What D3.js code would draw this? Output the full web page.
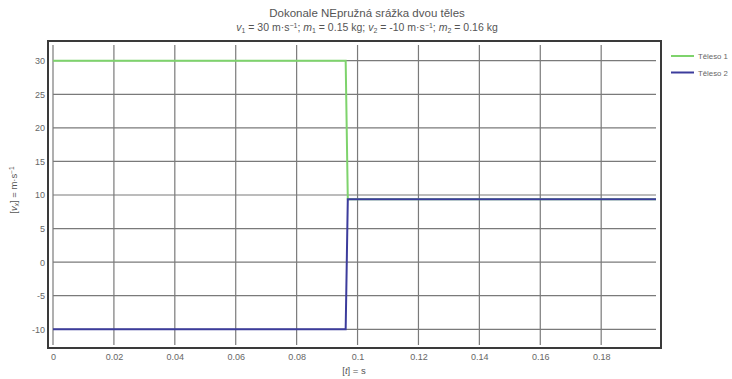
<!DOCTYPE html>
<html>
<head>
<meta charset="utf-8">
<script src="https://cdn.jsdelivr.net/npm/d3@7"></script>
<style>
  body { margin: 0; background: #fff; }
  svg { font-family: "Liberation Sans", Arial, sans-serif; }
  .tick text { fill: #666; font-size: 9px; }
</style>
</head>
<body>
<svg id="chart" width="732" height="379"></svg>
<script>
// time samples [s]
var times = [0, 0.0961, 0.0968, 0.198];
// velocities [m/s]
var body1 = [30, 30, 9.35, 9.35];
var body2 = [-10, -10, 9.35, 9.35];
var seriesNames = ['Těleso 1', 'Těleso 2'];
var xTicks = [0, 0.02, 0.04, 0.06, 0.08, 0.1, 0.12, 0.14, 0.16, 0.18];
var yTicks = [-10, -5, 0, 5, 10, 15, 20, 25, 30];

var svg = d3.select('#chart');
var colors = ['#7ed36c', '#3c3c9c'];

var x = d3.scaleLinear().domain([0, 0.198]).range([53, 656]);
var y = d3.scaleLinear().domain([-12.34, 32.34]).range([345, 45]);

// grid
svg.append('g').selectAll('line').data(xTicks).join('line')
  .attr('x1', d => x(d)).attr('x2', d => x(d))
  .attr('y1', y(32.34)).attr('y2', y(-12.34))
  .attr('stroke', '#7a7a7a').attr('stroke-width', 1.2);
svg.append('g').selectAll('line').data(yTicks).join('line')
  .attr('x1', x(0)).attr('x2', x(0.198))
  .attr('y1', d => y(d)).attr('y2', d => y(d))
  .attr('stroke', '#7a7a7a').attr('stroke-width', 1.2);

// frame
svg.append('rect')
  .attr('x', 48).attr('y', 41).attr('width', 613).attr('height', 307)
  .attr('fill', 'none').attr('stroke', '#3a3a3a').attr('stroke-width', 2);

// axes (labels only)
var xAxis = d3.axisBottom(x).tickValues(xTicks).tickSize(0).tickPadding(0)
  .tickFormat(d => String(+d.toFixed(2)));
svg.append('g').attr('transform', 'translate(0,354)').call(xAxis)
  .call(g => g.select('.domain').remove());

var yAxis = d3.axisLeft(y).tickValues(yTicks).tickSize(0).tickPadding(0)
  .tickFormat(d => String(d));
svg.append('g').attr('transform', 'translate(45,0)').call(yAxis)
  .call(g => g.select('.domain').remove());

// lines
var line = d3.line().x((d, i) => x(times[i])).y(d => y(d));
[body1, body2].forEach(function(s, k) {
  svg.append('path').datum(s)
    .attr('fill', 'none')
    .attr('stroke', colors[k])
    .attr('stroke-width', 2)
    .attr('d', line);
});

// title
svg.append('text').attr('x', 367).attr('y', 17).attr('text-anchor', 'middle')
  .attr('font-size', 11.5).attr('fill', '#555').text('Dokonale NEpružná srážka dvou těles');
var sub = svg.append('text').attr('x', 367).attr('y', 31).attr('text-anchor', 'middle')
  .attr('font-size', 10.5).attr('fill', '#555');
sub.append('tspan').attr('font-style', 'italic').text('v');
sub.append('tspan').attr('font-size', 7).attr('dy', 2).text('1');
sub.append('tspan').attr('dy', -2).text(' = 30 m·s');
sub.append('tspan').attr('font-size', 7).attr('dy', -3).text('−1');
sub.append('tspan').attr('dy', 3).text('; ');
sub.append('tspan').attr('font-style', 'italic').text('m');
sub.append('tspan').attr('font-size', 7).attr('dy', 2).text('1');
sub.append('tspan').attr('dy', -2).text(' = 0.15 kg; ');
sub.append('tspan').attr('font-style', 'italic').text('v');
sub.append('tspan').attr('font-size', 7).attr('dy', 2).text('2');
sub.append('tspan').attr('dy', -2).text(' = -10 m·s');
sub.append('tspan').attr('font-size', 7).attr('dy', -3).text('−1');
sub.append('tspan').attr('dy', 3).text('; ');
sub.append('tspan').attr('font-style', 'italic').text('m');
sub.append('tspan').attr('font-size', 7).attr('dy', 2).text('2');
sub.append('tspan').attr('dy', -2).text(' = 0.16 kg');

// axis titles
var xl = svg.append('text').attr('x', 354).attr('y', 374).attr('text-anchor', 'middle')
  .attr('font-size', 9.5).attr('fill', '#555');
xl.append('tspan').text('[');
xl.append('tspan').attr('font-style', 'italic').text('t');
xl.append('tspan').text('] = s');

var yl = svg.append('text').attr('transform', 'translate(17,190) rotate(-90)')
  .attr('text-anchor', 'middle').attr('font-size', 9.5).attr('fill', '#555');
yl.append('tspan').text('[');
yl.append('tspan').attr('font-style', 'italic').text('v');
yl.append('tspan').attr('font-size', 6.5).attr('dy', 2).attr('font-style', 'italic').text('x');
yl.append('tspan').attr('dy', -2).text('] = m·s');
yl.append('tspan').attr('font-size', 6.5).attr('dy', -3).text('−1');

// legend (shrunk a little so the names stay inside the page)
var lg = svg.append('g').selectAll('g').data(seriesNames).join('g')
  .attr('transform', (d, i) => 'translate(671,' + (56 + i * 16.5) + ')');
lg.append('line').attr('x1', 0).attr('x2', 23)
  .attr('stroke', (d, i) => colors[i]).attr('stroke-width', 2);
lg.append('text').attr('x', 27).attr('y', 3).attr('font-size', 7.8)
  .attr('fill', '#666').text(d => d);
</script>
</body>
</html>
